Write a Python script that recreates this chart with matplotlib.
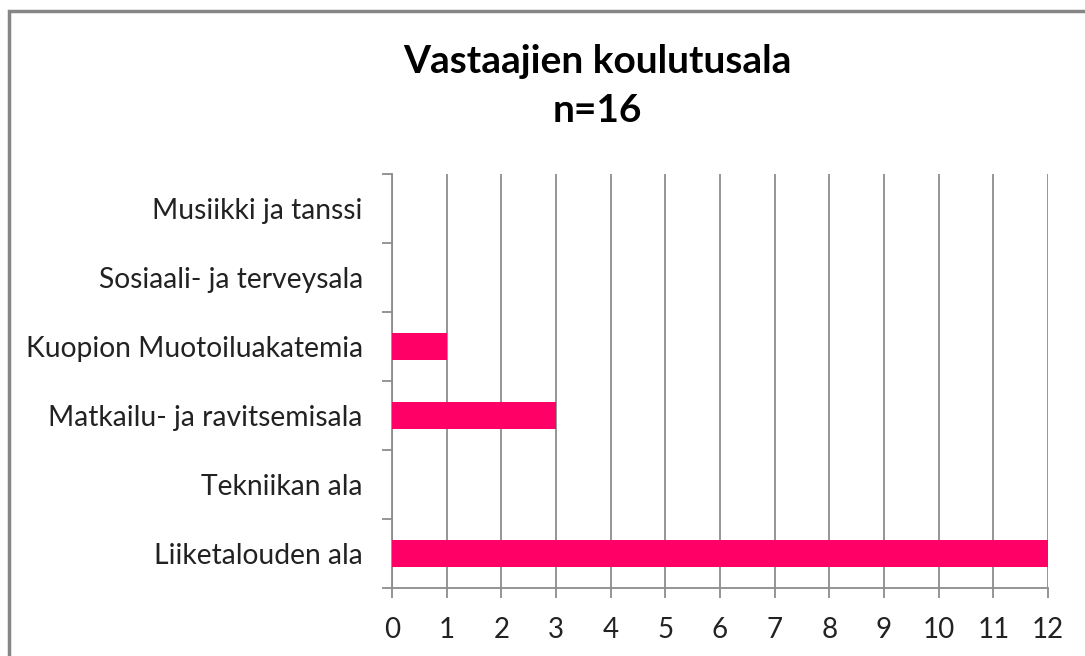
import matplotlib.pyplot as plt
from matplotlib.patches import Rectangle

# Data (top to bottom in the picture)
categories = [
    "Liiketalouden ala",
    "Tekniikan ala",
    "Matkailu- ja ravitsemisala",
    "Kuopion Muotoiluakatemia",
    "Sosiaali- ja terveysala",
    "Musiikki ja tanssi",
]
counts = [12, 0, 3, 1, 0, 0]
x_ticks = list(range(0, 13))

plt.rcParams["font.family"] = ["Lato", "DejaVu Sans"]

W, H = 1085, 656
fig = plt.figure(figsize=(W / 100, H / 100), dpi=100)
ax = fig.add_axes([392 / W, 1 - 588 / H, (1048 - 392) / W, (588 - 174) / H])

grey = "#8c8c8c"
y = range(len(categories))
ax.barh(y, counts, height=0.4, color="#ff0066", zorder=3)

ax.set_xlim(0, 12)
ax.set_ylim(-0.5, len(categories) - 0.5)
ax.set_xticks(x_ticks)
ax.set_xticklabels([str(t) for t in x_ticks], fontsize=20, color="#222222")
ax.xaxis.grid(True, color=grey, linewidth=1.3, zorder=0)

# category labels centred in bands, tick marks on band boundaries
ax.set_yticks([i - 0.5 for i in range(len(categories) + 1)])
ax.set_yticklabels([])
ax.set_yticks(list(y), minor=True)
ax.set_yticklabels(categories, minor=True, fontsize=20.3, color="#222222")
ax.tick_params(axis="y", which="minor", length=0, pad=21)
ax.tick_params(axis="y", which="major", length=7, color=grey, width=1.3)
ax.tick_params(axis="x", length=7, color=grey, width=1.3, pad=14)

for side in ["top", "right"]:
    ax.spines[side].set_visible(False)
for side in ["left", "bottom"]:
    ax.spines[side].set_color(grey)
    ax.spines[side].set_linewidth(1.3)

fig.text(597 / W, 1 - 86 / H, "Vastaajien koulutusala\nn=16", ha="center",
         va="center", fontsize=28, fontweight="bold", linespacing=1.45)

# outer chart border (runs off the right and bottom edges)
fig.patches.append(Rectangle((9 / W, -0.1), 1.2, 1 - 11 / H + 0.1,
                             transform=fig.transFigure, fill=False,
                             edgecolor="#868686", linewidth=2.5))

fig.savefig("out.png", dpi=100)
